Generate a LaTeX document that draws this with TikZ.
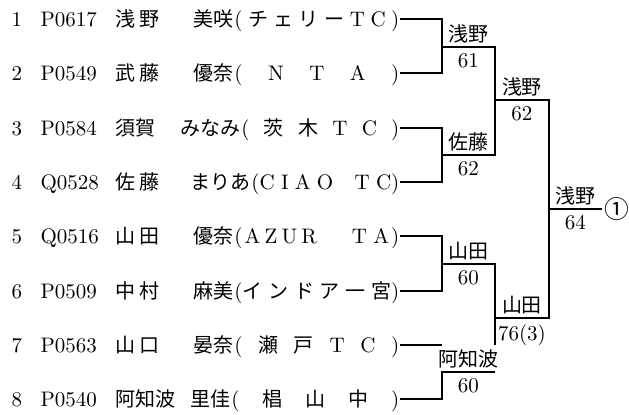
\documentclass[tikz,border=0pt]{standalone}
\usepackage{fontspec}
\usetikzlibrary{positioning}
\newfontfamily\jp[Scale=0.952]{Noto Sans CJK JP}
\newcommand\J[1]{{\jp #1}}

\begin{document}
\begin{tikzpicture}[
  x=0.5pt,y=-0.5pt,
  font=\fontsize{10.5}{12.6}\selectfont,
  line width=0.6pt,
  entry/.style={anchor=west,inner sep=0pt,text height=8.5pt,text depth=1.5pt},
  kanji/.style={entry,font=\fontsize{10.5}{12.6}\selectfont\jp},
  club/.style={entry,anchor=east},
  win/.style={font=\fontsize{10.5}{12.6}\selectfont\jp,inner sep=0pt,above=1.5pt},
  score/.style={inner sep=0pt,below=3pt},
]
\path[use as bounding box,fill=white] (0,0) rectangle (629,414);

% 選手
\node[entry] (n1) at (11,19) {1};
\node[entry] (id1) at (40,19) {P0617};
\node[kanji] (sn1) at (115,19) {浅\hspace{.2em}野};
\node[club] (club1) at (400,19) {\makebox[82.5pt][s]{(\hfill\J{チ}\hfill\J{ェ}\hfill\J{リ}\hfill\J{ー}\hfill T\hfill C\hfill)}};
\node[kanji,left=0pt of club1] (gn1) {美咲};

\node[entry] (n2) at (11,73) {2};
\node[entry] (id2) at (40,73) {P0549};
\node[kanji] (sn2) at (115,73) {武\hspace{.2em}藤};
\node[club] (club2) at (400,73) {\makebox[82.5pt][s]{(\hfill N\hfill T\hfill A\hfill)}};
\node[kanji,left=0pt of club2] (gn2) {優奈};

\node[entry] (n3) at (11,128) {3};
\node[entry] (id3) at (40,128) {P0584};
\node[kanji] (sn3) at (115,128) {須賀};
\node[club] (club3) at (400,128) {\makebox[79pt][s]{(\hfill\J{茨}\hfill\J{木}\hfill T\hfill C\hfill)}};
\node[kanji,left=0pt of club3] (gn3) {みなみ};

\node[entry] (n4) at (11,182) {4};
\node[entry] (id4) at (40,182) {Q0528};
\node[kanji] (sn4) at (115,182) {佐\hspace{.2em}藤};
\node[club] (club4) at (400,182) {\makebox[74pt][s]{(C\hspace{.3em}I\hspace{.3em}A\hspace{.3em}O\hfill T\hspace{.3em}C)}};
\node[kanji,left=0pt of club4] (gn4) {まりあ};

\node[entry] (n5) at (11,236) {5};
\node[entry] (id5) at (40,236) {Q0516};
\node[kanji] (sn5) at (115,236) {山\hspace{.2em}田};
\node[club] (club5) at (400,236) {\makebox[82.5pt][s]{(\kern1pt A\hspace{.2em}Z\hspace{.2em}U\hspace{.2em}R\hfill T\hspace{.3em}A\kern1pt)}};
\node[kanji,left=0pt of club5] (gn5) {優奈};

\node[entry] (n6) at (11,291) {6};
\node[entry] (id6) at (40,291) {P0509};
\node[kanji] (sn6) at (115,291) {中\hspace{.2em}村};
\node[club] (club6) at (400,291) {\makebox[82.5pt][s]{(\J{イ}\hfill\J{ン}\hfill\J{ド}\hfill\J{ア}\hfill\J{一}\hfill\J{宮})}};
\node[kanji,left=0pt of club6] (gn6) {麻美};

\node[entry] (n7) at (11,345) {7};
\node[entry] (id7) at (40,345) {P0563};
\node[kanji] (sn7) at (115,345) {山\hspace{.2em}口};
\node[club] (club7) at (400,345) {\makebox[82.5pt][s]{(\hfill\J{瀬}\hfill\J{戸}\hfill T\hfill C\hfill)}};
\node[kanji,left=0pt of club7] (gn7) {晏奈};

\node[entry] (n8) at (11,399) {8};
\node[entry] (id8) at (40,399) {P0540};
\node[kanji] (sn8) at (115,399) {阿知波};
\node[club] (club8) at (400,399) {\makebox[84pt][s]{(\hfill\J{椙}\hfill\J{山}\hfill\J{中}\hfill)}};
\node[kanji,left=0pt of club8] (gn8) {里佳};

% 勝ち上がり
\coordinate (a1) at (442,47);
\coordinate (a2) at (442,155);
\coordinate (a3) at (442,264);
\coordinate (a4) at (442,372);
\coordinate (b1) at (495,100);
\coordinate (b2) at (495,318);
\coordinate (c1) at (549,209);
\node[font=\fontsize{13}{15}\selectfont\jp,anchor=west,inner sep=1pt] (champ) at (602,209) {①};

% 1回戦
\draw (club1.east) -| (a1) |- (club2.east);
\draw (club3.east) -| (a2) |- (club4.east);
\draw (club5.east) -| (a3) |- (club6.east);
\draw (club7.east) -- (club7.east -| a3);
\draw (club8.east) -| (a4) -- node[win,midway] (w4) {阿知波} node[score,midway] (p4) {60} (a4 -| b2);

% 準決勝
\draw (a1) -| node[win,pos=.25] (w1) {浅野} node[score,pos=.25] (p1) {61} (b1)
  |- node[win,pos=.75] (w2) {佐藤} node[score,pos=.75] (p2) {62} (a2);
\draw (a3) -| node[win,pos=.25] (w3) {山田} node[score,pos=.25] (p3) {60} (b2) -- (b2 |- club7.east);

% 決勝
\draw (b1) -| node[win,pos=.25] (w5) {浅野} node[score,pos=.25] (p5) {62} (c1)
  |- node[win,pos=.75] (w6) {山田} node[score,pos=.75] (p6) {76(3)} (b2);
\draw (c1) -- node[win,midway] (w7) {浅野} node[score,midway] (p7) {64} (champ.west);

\end{tikzpicture}
\end{document}
